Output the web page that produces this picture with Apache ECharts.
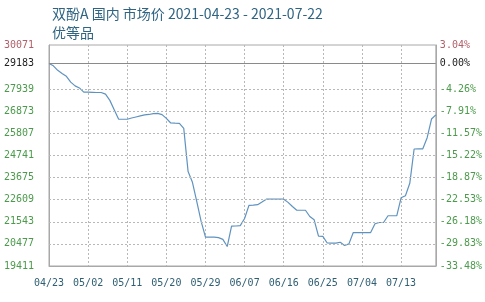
<!DOCTYPE html>
<html>
<head>
<meta charset="utf-8">
<script src="https://cdn.jsdelivr.net/npm/echarts@6/dist/echarts.min.js"></script>
<style>html,body{margin:0;padding:0;background:#fff;}#c{width:485px;height:302px;}</style>
</head>
<body>
<div id="c"></div>
<script>
const titleText = '双酚A 国内 市场价 2021-04-23 - 2021-07-22';
const subTitleText = '优等品';
const dates = [
 '04/23','04/24','04/25','04/26','04/27','04/28','04/29','04/30',
 '05/01','05/02','05/03','05/04','05/05','05/06','05/07','05/08','05/09','05/10','05/11','05/12','05/13','05/14','05/15','05/16','05/17','05/18','05/19','05/20','05/21','05/22','05/23','05/24','05/25','05/26','05/27','05/28','05/29','05/30','05/31',
 '06/01','06/02','06/03','06/04','06/05','06/06','06/07','06/08','06/09','06/10','06/11','06/12','06/13','06/14','06/15','06/16','06/17','06/18','06/19','06/20','06/21','06/22','06/23','06/24','06/25','06/26','06/27','06/28','06/29','06/30',
 '07/01','07/02','07/03','07/04','07/05','07/06','07/07','07/08','07/09','07/10','07/11','07/12','07/13','07/14','07/15','07/16','07/17','07/18','07/19','07/20','07/21'
];
const prices = [
 29183,29067,28850,28700,28560,28280,28100,28000,
 27800,27800,27790,27780,27780,27700,27400,26950,26500,26490,26490,26550,26600,26650,26700,26720,26760,26770,26712,26530,26310,26300,26295,26050,23965,23450,22520,21560,20800,20800,20800,
 20780,20695,20350,21334,21340,21360,21700,22333,22350,22370,22500,22633,22633,22633,22633,22633,22480,22280,22100,22100,22100,21800,21640,20850,20840,20520,20511,20511,20555,20400,20477,
 21024,21024,21024,21024,21024,21450,21510,21520,21834,21834,21834,22700,22803,23400,25055,25060,25065,25600,26500,26700
];
const yTicks = [19411,20477,21543,22609,23675,24741,25807,26873,27939,29183,30071];
const pctLabels = ['-33.48%','-29.83%','-26.18%','-22.53%','-18.87%','-15.22%','-11.57%','-7.91%','-4.26%','0.00%','3.04%'];
const baseValue = 29183;
const yMin = 19411, yMax = 30071;

function styleFor(v){
  if (v > baseValue) return 'r';
  if (v === baseValue) return 'k';
  return 'g';
}
const richStyles = {
  r:{color:'#b0606a',fontFamily:'DejaVu Sans Mono',fontSize:10},
  k:{color:'#222222',fontFamily:'DejaVu Sans Mono',fontSize:10},
  g:{color:'#4c9a4c',fontFamily:'DejaVu Sans Mono',fontSize:10}
};

const chart = echarts.init(document.getElementById('c'), null, {renderer:'canvas'});
const gridLines = yTicks.filter(v => v !== yMin && v !== yMax).map(v => ({
  yAxis: v,
  lineStyle: v === baseValue ? {color:'#8a8a8a', type:'solid', width:1} : {color:'#b8b8b8', type:[2,2], width:1}
}));
chart.setOption({
  animation:false,
  backgroundColor:'#fff',
  title:[
    {text:titleText, left:47, top:2, textStyle:{fontSize:14, fontWeight:'normal', color:'#2f6482', fontFamily:'Noto Sans CJK SC'}},
    {text:subTitleText, left:47, top:21, textStyle:{fontSize:14, fontWeight:'normal', color:'#2f6482', fontFamily:'Noto Sans CJK SC'}}
  ],
  grid:{left:49, right:47, top:45, bottom:36, show:true, borderColor:'#a8a8a8', borderWidth:1, backgroundColor:'#fff'},
  xAxis:{
    type:'category', data:dates, boundaryGap:false,
    axisLine:{lineStyle:{color:'#a8a8a8'}},
    axisTick:{show:false},
    axisLabel:{interval:8, color:'#2f5f73', fontFamily:'DejaVu Sans Mono', fontSize:10, margin:12},
    splitLine:{show:true, interval:8, lineStyle:{color:'#b8b8b8', type:[2,2], width:1}}
  },
  yAxis:[
    {type:'value', min:yMin, max:yMax, position:'left',
     axisLine:{show:true, lineStyle:{color:'#a8a8a8'}}, axisTick:{show:false}, splitLine:{show:false},
     axisLabel:{customValues:yTicks, margin:15,
       formatter:function(v){ v=Math.round(v); return '{'+styleFor(v)+'|'+v+'}'; }, rich:richStyles}},
    {type:'value', min:yMin, max:yMax, position:'right',
     axisLine:{show:true, lineStyle:{color:'#a8a8a8'}}, axisTick:{show:false}, splitLine:{show:false},
     axisLabel:{customValues:yTicks, margin:4,
       formatter:function(v){ v=Math.round(v); const i=yTicks.indexOf(v); return '{'+styleFor(v)+'|'+(i>=0?pctLabels[i]:'')+'}'; }, rich:richStyles}}
  ],
  series:[{
    type:'line', data:prices, yAxisIndex:0, showSymbol:false, smooth:false,
    lineStyle:{color:'#5f93bf', width:1.2},
    itemStyle:{color:'#5f93bf'},
    markLine:{silent:true, symbol:['none','none'], label:{show:false}, animation:false, data:gridLines},
    z:3
  }]
});
</script>
</body>
</html>
